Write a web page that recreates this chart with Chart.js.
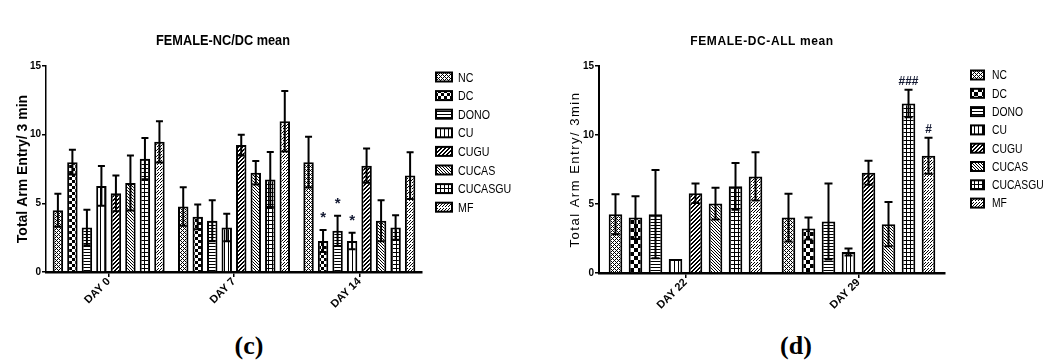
<!DOCTYPE html>
<html><head><meta charset="utf-8">
<script src="https://cdn.jsdelivr.net/npm/chart.js@4"></script>
<style>
html,body{margin:0;padding:0;background:#fff;width:1047px;height:361px;overflow:hidden;position:relative;}
#wrapC{position:absolute;left:0;top:0;width:530px;height:330px;}
#wrapD{position:absolute;left:530px;top:0;width:517px;height:330px;}
.lab{position:absolute;top:333px;font:bold 26px "Liberation Serif","Times New Roman",serif;line-height:26px;width:80px;text-align:center;color:#000;}
</style></head><body>
<div id="wrapC"><canvas id="c" width="530" height="330"></canvas></div>
<div id="wrapD"><canvas id="d" width="517" height="330"></canvas></div>
<div class="lab" style="left:209px">(c)</div>
<div class="lab" style="left:756px">(d)</div>
<script>
// ---- data ----
const groups = ['NC','DC','DONO','CU','CUGU','CUCAS','CUCASGU','MF'];
const daysC = ['DAY 0','DAY 7','DAY 14'];
const daysD = ['DAY 22','DAY 29'];
// rows follow groups, columns follow days
const meansC = [
  [4.5, 4.77, 8.0],
  [8.0, 4.02, 2.25],
  [3.24, 3.73, 3.0],
  [6.27, 3.24, 2.25],
  [5.73, 9.24, 7.74],
  [6.48, 7.23, 3.73],
  [8.25, 6.73, 3.24],
  [9.48, 10.98, 7.02]
];
const semC = [
  [1.2, 1.4, 1.85],
  [0.9, 0.9, 0.8],
  [1.3, 1.5, 1.1],
  [1.45, 1.0, 0.6],
  [1.3, 0.75, 1.25],
  [2.0, 0.85, 1.5],
  [1.5, 2.0, 0.9],
  [1.5, 2.2, 1.7]
];
const marksC = [
  ['','',''],
  ['','','*'],
  ['','','*'],
  ['','','*'],
  ['','',''],
  ['','',''],
  ['','',''],
  ['','','']
];
const meansD = [
  [4.26, 4.02],
  [4.02, 3.23],
  [4.26, 3.73],
  [1.01, 1.52],
  [5.78, 7.27],
  [5.03, 3.54],
  [6.28, 12.28],
  [7.0, 8.5]
];
const semD = [
  [1.45, 1.73],
  [1.55, 0.8],
  [3.2, 2.75],
  [0, 0.25],
  [0.7, 0.87],
  [1.15, 1.6],
  [1.7, 1.0],
  [1.75, 1.3]
];
const marksD = [
  ['',''],['',''],['',''],['',''],['',''],['',''],['','###'],['','#']
];
const yTicks = [0, 5, 10, 15];

// ---- patterns ----
function makeTile(size, test) {
  const c = document.createElement('canvas');
  c.width = size; c.height = size;
  const x = c.getContext('2d');
  x.fillStyle = '#fff'; x.fillRect(0, 0, size, size);
  x.fillStyle = '#000';
  for (let i = 0; i < size; i++) for (let j = 0; j < size; j++) if (test(i, j)) x.fillRect(i, j, 1, 1);
  return c;
}
function makePatterns(ctx, cell) {
  const tiles = [
    makeTile(4, (i, j) => (i + j) % 4 === 0 || (i - j + 4) % 4 === 0),           // NC
    makeTile(cell * 2, (i, j) => (Math.floor(i / cell) + Math.floor(j / cell)) % 2 === 0), // DC
    makeTile(3, (i, j) => j === 0),                                              // DONO
    makeTile(4, (i, j) => i === 0),                                              // CU
    makeTile(4, (i, j) => (i + j) % 4 === 0 || (i + j) % 4 === 1),               // CUGU
    makeTile(3, (i, j) => (i - j + 9) % 3 === 0),                                // CUCAS
    makeTile(4, (i, j) => i === 0 || j === 0),                                   // CUCASGU
    makeTile(6, (i, j) => (i + j) % 3 === 0 && j % 6 !== 3)                      // MF
  ];
  return tiles.map(t => ctx.createPattern(t, 'repeat'));
}

const SANS = "'Liberation Sans',Arial,sans-serif";

function condText(ctx, text, x, y, sx) {
  ctx.save(); ctx.translate(x, y); ctx.scale(sx, 1); ctx.fillText(text, 0, 0); ctx.restore();
}

const extras = {
  id: 'extras',
  beforeDraw(chart, args, o) {
    const s = chart.scales.y;
    if (o.yTitleSpacing && !s._spaced) {
      const orig = s.drawTitle.bind(s);
      s.drawTitle = function () {
        const c = this.ctx; const prev = c.letterSpacing;
        c.letterSpacing = o.yTitleSpacing; orig(); c.letterSpacing = prev;
      };
      s._spaced = true;
    }
  },
  afterDatasetsDraw(chart, args, o) {
    const ctx = chart.ctx, y = chart.scales.y;
    chart.data.datasets.forEach((ds, di) => {
      const meta = chart.getDatasetMeta(di);
      meta.data.forEach((bar, j) => {
        const m = ds.data[j], e = ds.sem[j];
        const x = bar.x;
        const yt = y.getPixelForValue(m + e), yb = y.getPixelForValue(m - e);
        ctx.save();
        if (e > 0) {
          ctx.strokeStyle = '#000'; ctx.lineWidth = o.errWidth;
          ctx.beginPath();
          ctx.moveTo(x, yb); ctx.lineTo(x, yt);
          ctx.moveTo(x - o.cap, yt); ctx.lineTo(x + o.cap, yt);
          ctx.moveTo(x - o.cap, yb); ctx.lineTo(x + o.cap, yb);
          ctx.stroke();
        }
        const mk = ds.marks[j];
        if (mk) {
          ctx.fillStyle = '#141a33';
          ctx.textAlign = 'center'; ctx.textBaseline = 'alphabetic';
          ctx.font = mk === '*' ? 'bold 15px ' + SANS : 'bold 12px ' + SANS;
          ctx.fillText(mk, x, yt - (mk === '*' ? 8 : 5));
        }
        ctx.restore();
      });
    });
  },
  afterDraw(chart, args, o) {
    const ctx = chart.ctx;
    ctx.save();
    // title
    ctx.fillStyle = '#000';
    ctx.textAlign = 'center'; ctx.textBaseline = 'middle';
    ctx.font = o.titleFont;
    ctx.letterSpacing = o.titleSpacing || '0px';
    condText(ctx, o.title, o.titleX, o.titleY, o.titleScale);
    ctx.letterSpacing = '0px';
    // legend
    chart.data.datasets.forEach((ds, i) => {
      const cy = o.legY + i * o.legStep;
      ctx.fillStyle = ds.backgroundColor;
      ctx.fillRect(o.legX, cy - o.legH / 2, o.legW, o.legH);
      ctx.strokeStyle = '#000'; ctx.lineWidth = 2;
      ctx.strokeRect(o.legX, cy - o.legH / 2, o.legW, o.legH);
      ctx.fillStyle = '#000';
      ctx.textAlign = 'left'; ctx.textBaseline = 'middle';
      ctx.font = o.legFont;
      condText(ctx, ds.label, o.legTextX, cy + 1, o.legScale);
    });
    ctx.restore();
  }
};

function build(id, labels, means, sems, marks, cfg) {
  const canvas = document.getElementById(id);
  const ctx = canvas.getContext('2d');
  const pats = makePatterns(ctx, cfg.cell);
  const datasets = groups.map((g, i) => ({
    label: g,
    data: means[i],
    sem: sems[i],
    marks: marks[i],
    backgroundColor: pats[i],
    borderColor: '#000',
    borderWidth: 2,
    borderSkipped: 'start',
    categoryPercentage: cfg.catPct,
    barPercentage: cfg.barPct
  }));
  return new Chart(ctx, {
    type: 'bar',
    data: { labels, datasets },
    plugins: [extras],
    options: {
      responsive: false,
      animation: false,
      devicePixelRatio: 1,
      layout: { padding: { left: 0, top: cfg.top, right: cfg.right, bottom: 0 } },
      plugins: {
        legend: { display: false },
        tooltip: { enabled: false },
        title: { display: false },
        extras: cfg.extras
      },
      scales: {
        x: {
          offset: true,
          ticks: { minRotation: 45, maxRotation: 45, color: '#000', padding: -2,
                   font: { family: SANS, size: 11, weight: 'bold' } },
          grid: { display: true, offset: false, drawOnChartArea: false, tickLength: 5, color: '#000', lineWidth: 1.5 },
          border: { display: true, color: '#000', width: 2.5 },
          afterFit: s => { s.height = cfg.xH; }
        },
        y: {
          min: 0, max: 15,
          afterBuildTicks: s => { s.ticks = yTicks.map(v => ({ value: v })); },
          ticks: { color: '#000', padding: 1, font: { family: SANS, size: 10, weight: 'bold' } },
          grid: { display: true, drawOnChartArea: false, tickLength: 4, color: '#000', lineWidth: 1.5 },
          border: { display: true, color: '#000', width: cfg.yBorder },
          title: { display: true, text: cfg.yTitle, color: '#000', font: cfg.yTitleFont,
                   padding: { top: cfg.yTitlePad, bottom: 0 } },
          afterFit: s => { s.width = cfg.yW; }
        }
      }
    }
  });
}

build('c', daysC, meansC, semC, marksC, {
  cell: 3, catPct: 0.926, barPct: 0.72, top: 66, right: 108, xH: 58, yW: 46, yBorder: 1.5,
  yTitle: 'Total Arm Entry/ 3 min', yTitleFont: { family: SANS, size: 14, weight: 'bold' }, yTitlePad: 15,
  extras: { errWidth: 2, cap: 3.5, title: 'FEMALE-NC/DC mean', titleFont: 'bold 15px ' + SANS, titleScale: 0.85,
            titleX: 223, titleY: 41, legX: 436, legW: 16, legH: 9, legY: 77, legStep: 18.6,
            legTextX: 458, legFont: '13px ' + SANS, legScale: 0.82 }
});
build('d', daysD, meansD, semD, marksD, {
  cell: 4, catPct: 0.925, barPct: 0.68, top: 66, right: 102, xH: 57, yW: 69, yBorder: 2,
  yTitle: 'Total Arm Entry/ 3min', yTitleFont: { family: SANS, size: 13, weight: 'normal' }, yTitlePad: 38,
  extras: { errWidth: 2, cap: 4, yTitleSpacing: '1.5px', title: 'FEMALE-DC-ALL mean', titleFont: 'bold 12px ' + SANS,
            titleSpacing: '0.6px', titleScale: 1, titleX: 232, titleY: 42, legX: 441, legW: 13, legH: 9, legY: 75, legStep: 18.3,
            legTextX: 462, legFont: '12px ' + SANS, legScale: 0.86 }
});
</script>
</body></html>
